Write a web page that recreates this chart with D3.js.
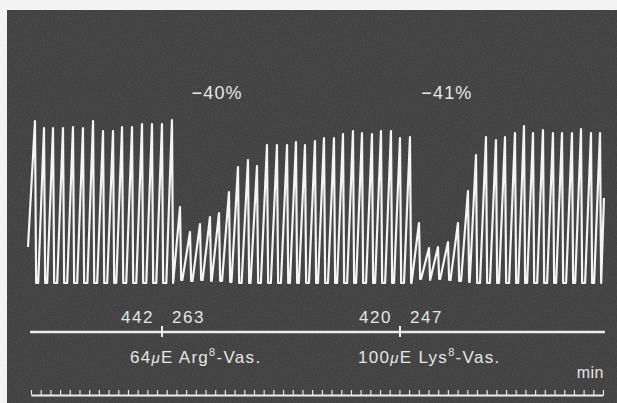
<!DOCTYPE html>
<html>
<head>
<meta charset="utf-8">
<script src="https://cdn.jsdelivr.net/npm/d3@7"></script>
<style>
  body { margin: 0; background: #f3f3f3; }
  svg { display: block; }
  text { font-family: "Liberation Sans", Arial, sans-serif; fill: #e6e6e6; }
</style>
</head>
<body>
<svg width="617" height="403"></svg>
<script>
// recording values, time in min, tension in recorder units (0 = resting line)
const peakTimes = [
  0.41, 1.34, 2.27, 3.30, 4.33, 5.36, 6.40, 7.43, 8.46, 9.39, 10.42, 11.45, 12.48, 13.51, 14.54,
  15.37, 16.40, 17.43, 18.46, 19.39, 20.42, 21.35, 22.38, 23.31, 24.34, 25.37, 26.41, 27.33, 28.26,
  29.29, 30.22, 31.25, 32.18, 33.21, 34.14, 35.17, 36.10, 37.13, 38.06, 39.09,
  40.02, 41.05, 41.98, 43.01, 44.04, 45.07, 45.90, 46.93, 47.96, 48.89, 49.92, 50.85, 51.78,
  52.81, 53.84, 54.77, 55.80, 56.73, 57.76, 58.69
];
const peakValues = [
  162, 155, 155, 155, 156, 155, 162, 152, 152, 156, 156, 159, 159, 159, 163,
  76, 51, 59, 66, 70, 91, 116, 123, 117, 138, 138, 138, 141, 138,
  142, 145, 145, 149, 152, 150, 149, 152, 152, 145, 146,
  60, 35, 36, 41, 60, 92, 128, 146, 143, 146, 150, 157, 150,
  153, 150, 150, 150, 154, 150, 150
];
const troughValues = [
  0, 0, 0, 0, 0, 0, 0, 0, 0, 0, 0, 0, 0, 0, 0,
  3, 2, 3, 2, 2, 1, 0, 0, 0, 0, 0, 0, 0, 0,
  0, 0, 0, 0, 0, 0, 0, 0, 0, 0, 0,
  4, 3, 4, 3, 2, 1, 0, 0, 0, 0, 0, 0, 0,
  0, 0, 0, 0, 0, 0, 0
];
const traceStart = { t: -0.31, v: 36 };
const traceEnd = { t: 59.10, v: 85 };

const injTimes = [13.51, 38.06];
const beforeLabels = ["442", "420"];
const afterLabels = ["263", "247"];
const doseLabels = [
  { dose: "64", drug: "Arg" },
  { dose: "100", drug: "Lys" }
];
const effectTimes = [19.2, 42.9];
const effectLabels = ["\u221240%", "\u221241%"];
const minuteTicks = d3.range(0, 60);

const svg = d3.select("svg");
const W = 617, H = 403;
const fallTime = 0.12; // fast relaxation after each peak
// contraction phase, a bit longer for the small ones
const riseTime = v => 0.58 + 0.3 * (1 - v / 165);

const x = d3.scaleLinear().domain([0, 59]).range([31, 603]);
const y = d3.scaleLinear().domain([0, 165]).range([283, 118]);

// paper background with some grain
const defs = svg.append("defs");
const f = defs.append("filter").attr("id", "grain")
  .attr("x", 0).attr("y", 0).attr("width", "100%").attr("height", "100%");
f.append("feTurbulence").attr("type", "fractalNoise")
  .attr("baseFrequency", 0.8).attr("numOctaves", 2).attr("seed", 4);
f.append("feColorMatrix").attr("type", "matrix")
  .attr("values", "0 0 0 0 1  0 0 0 0 1  0 0 0 0 1  0 0 0 0.22 -0.02");

svg.append("rect").attr("x", 7).attr("y", 10)
  .attr("width", W - 7).attr("height", H - 10).attr("fill", "#3c3c3c");
svg.append("rect").attr("x", 7).attr("y", 10)
  .attr("width", W - 7).attr("height", H - 10)
  .attr("filter", "url(#grain)").attr("opacity", 0.5);

// build the trace: rise to each peak, fast fall, short rest on the base line
const pts = [traceStart];
let last = traceStart.t;
peakTimes.forEach((t, i) => {
  const onset = t - riseTime(peakValues[i]);
  if (i > 0 && onset > last + 0.02) pts.push({ t: onset, v: troughValues[i - 1] });
  pts.push({ t: t, v: peakValues[i] });
  last = t + fallTime;
  pts.push({ t: last, v: troughValues[i] });
});
pts.push(traceEnd);

const line = d3.line().x(d => x(d.t)).y(d => y(d.v));
svg.append("path")
  .datum(pts)
  .attr("d", line)
  .attr("fill", "none")
  .attr("stroke", "#f4f4f4")
  .attr("stroke-width", 2.2)
  .attr("stroke-linejoin", "round");

// effect labels
svg.selectAll(".effect")
  .data(effectLabels)
  .enter().append("text")
  .attr("class", "effect")
  .attr("x", (d, i) => x(effectTimes[i]))
  .attr("y", 99)
  .attr("text-anchor", "middle")
  .attr("font-size", 18)
  .attr("letter-spacing", 1.2)
  .text(d => d);

// injection line
const injY = 332;
svg.append("line")
  .attr("x1", x(-0.1)).attr("x2", x(59.2))
  .attr("y1", injY).attr("y2", injY)
  .attr("stroke", "#ececec").attr("stroke-width", 2.5);
svg.selectAll(".inj")
  .data(injTimes)
  .enter().append("line")
  .attr("x1", d => x(d)).attr("x2", d => x(d))
  .attr("y1", injY - 6).attr("y2", injY + 5)
  .attr("stroke", "#ececec").attr("stroke-width", 2);

svg.selectAll(".before")
  .data(beforeLabels)
  .enter().append("text")
  .attr("x", (d, i) => x(injTimes[i]) - 8)
  .attr("y", 323)
  .attr("text-anchor", "end")
  .attr("font-size", 17)
  .attr("letter-spacing", 1.5)
  .text(d => d);
svg.selectAll(".after")
  .data(afterLabels)
  .enter().append("text")
  .attr("x", (d, i) => x(injTimes[i]) + 10)
  .attr("y", 323)
  .attr("font-size", 17)
  .attr("letter-spacing", 1.5)
  .text(d => d);

const doseOffsets = [-32, -42];
const dose = svg.selectAll(".dose")
  .data(doseLabels)
  .enter().append("text")
  .attr("class", "dose")
  .attr("x", (d, i) => x(injTimes[i]) + doseOffsets[i])
  .attr("y", 363)
  .attr("font-size", 17)
  .attr("letter-spacing", 1.3);
dose.append("tspan").text(d => d.dose);
dose.append("tspan").attr("font-style", "italic").attr("font-size", 15).text("\u03bc");
dose.append("tspan").text(d => "E " + d.drug);
dose.append("tspan").attr("font-size", 11).attr("dy", -7).text("8");
dose.append("tspan").attr("dy", 7).text("-Vas.");

// minute time marks
svg.append("text")
  .attr("x", x(59) + 1).attr("y", 378)
  .attr("text-anchor", "end")
  .attr("font-size", 16)
  .attr("letter-spacing", 0.5)
  .text("min");

const axis = d3.axisTop(x).tickValues(minuteTicks).tickSize(5).tickSizeOuter(0).tickFormat("");
const gAxis = svg.append("g").attr("transform", "translate(0,395)").call(axis);
gAxis.select(".domain").attr("stroke", "#ececec").attr("stroke-width", 2);
gAxis.selectAll(".tick line").attr("stroke", "#e6e6e6").attr("stroke-width", 1.2);
</script>
</body>
</html>
